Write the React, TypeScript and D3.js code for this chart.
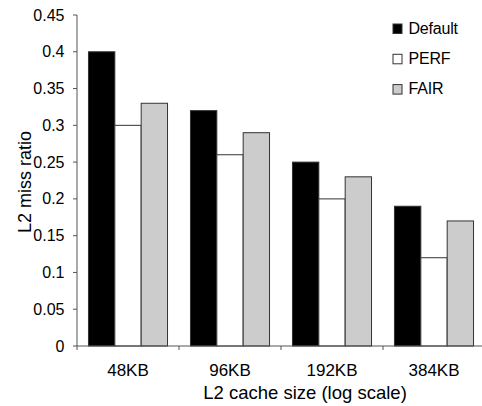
import React from "react";
import * as d3 from "d3";

const categories = ["48KB", "96KB", "192KB", "384KB"];
const seriesNames = ["Default", "PERF", "FAIR"];
const defaultValues = [0.4, 0.32, 0.25, 0.19];
const perfValues = [0.3, 0.26, 0.2, 0.12];
const fairValues = [0.33, 0.29, 0.23, 0.17];
const yTicks = [0, 0.05, 0.1, 0.15, 0.2, 0.25, 0.3, 0.35, 0.4, 0.45];
const colors = ["#000000", "#ffffff", "#cccccc"];

const W = 482, H = 406;
const left = 77, right = 485, top = 15, bottom = 346;
const font = "'Liberation Sans', Arial, sans-serif";

export default function App() {
  const series = [defaultValues, perfValues, fairValues];
  const x0 = d3.scaleBand().domain(categories).range([left, right]).paddingInner(0.225).paddingOuter(0.1125);
  const outer = d3.scaleBand().domain(categories).range([left, right]);
  const x1 = d3.scaleBand().domain(seriesNames).range([0, x0.bandwidth()]);
  const y = d3.scaleLinear().domain([0, 0.45]).range([bottom, top]);
  const fmt = (v: number) => (v === 0 ? "0" : String(+v.toFixed(2)));
  return (
    <svg width={W} height={H} style={{ position: "absolute", left: 0, top: 0, background: "#fff" }} fontFamily={font}>
      {series.map((vals, si) =>
        vals.map((v, ci) => (
          <rect
            key={`${si}-${ci}`}
            x={x0(categories[ci])! + x1(seriesNames[si])!}
            y={y(v)}
            width={x1.bandwidth()}
            height={bottom - y(v)}
            fill={colors[si]}
            stroke="#333"
            strokeWidth={1}
          />
        ))
      )}
      <line x1={left} x2={left} y1={top} y2={bottom} stroke="#555" />
      <line x1={left} x2={right} y1={bottom} y2={bottom} stroke="#555" />
      {yTicks.map((t) => (
        <g key={t}>
          <line x1={left - 4} x2={left} y1={y(t)} y2={y(t)} stroke="#555" />
          <text x={64.5} y={y(t) + 5.5} textAnchor="end" fontSize={16} fill="#000">{fmt(t)}</text>
        </g>
      ))}
      {categories.map((c) => (
        <g key={c}>
          <line x1={outer(c)!} x2={outer(c)!} y1={bottom} y2={bottom + 4} stroke="#555" />
          <text x={outer(c)! + outer.bandwidth() / 2} y={376} textAnchor="middle" fontSize={17} fill="#000">{c}</text>
        </g>
      ))}
      <text x={305} y={398.5} textAnchor="middle" fontSize={18.5} fill="#000">L2 cache size (log scale)</text>
      <text transform="translate(31,182) rotate(-90)" textAnchor="middle" fontSize={18} fill="#000">L2 miss ratio</text>
      {seriesNames.map((n, i) => (
        <g key={n}>
          <rect x={393} y={24 + i * 30.3} width={9} height={9.5} fill={colors[i]} stroke="#333" />
          <text x={408.5} y={34 + i * 30} fontSize={16} fill="#000" letterSpacing={-0.2}>{n}</text>
        </g>
      ))}
    </svg>
  );
}
